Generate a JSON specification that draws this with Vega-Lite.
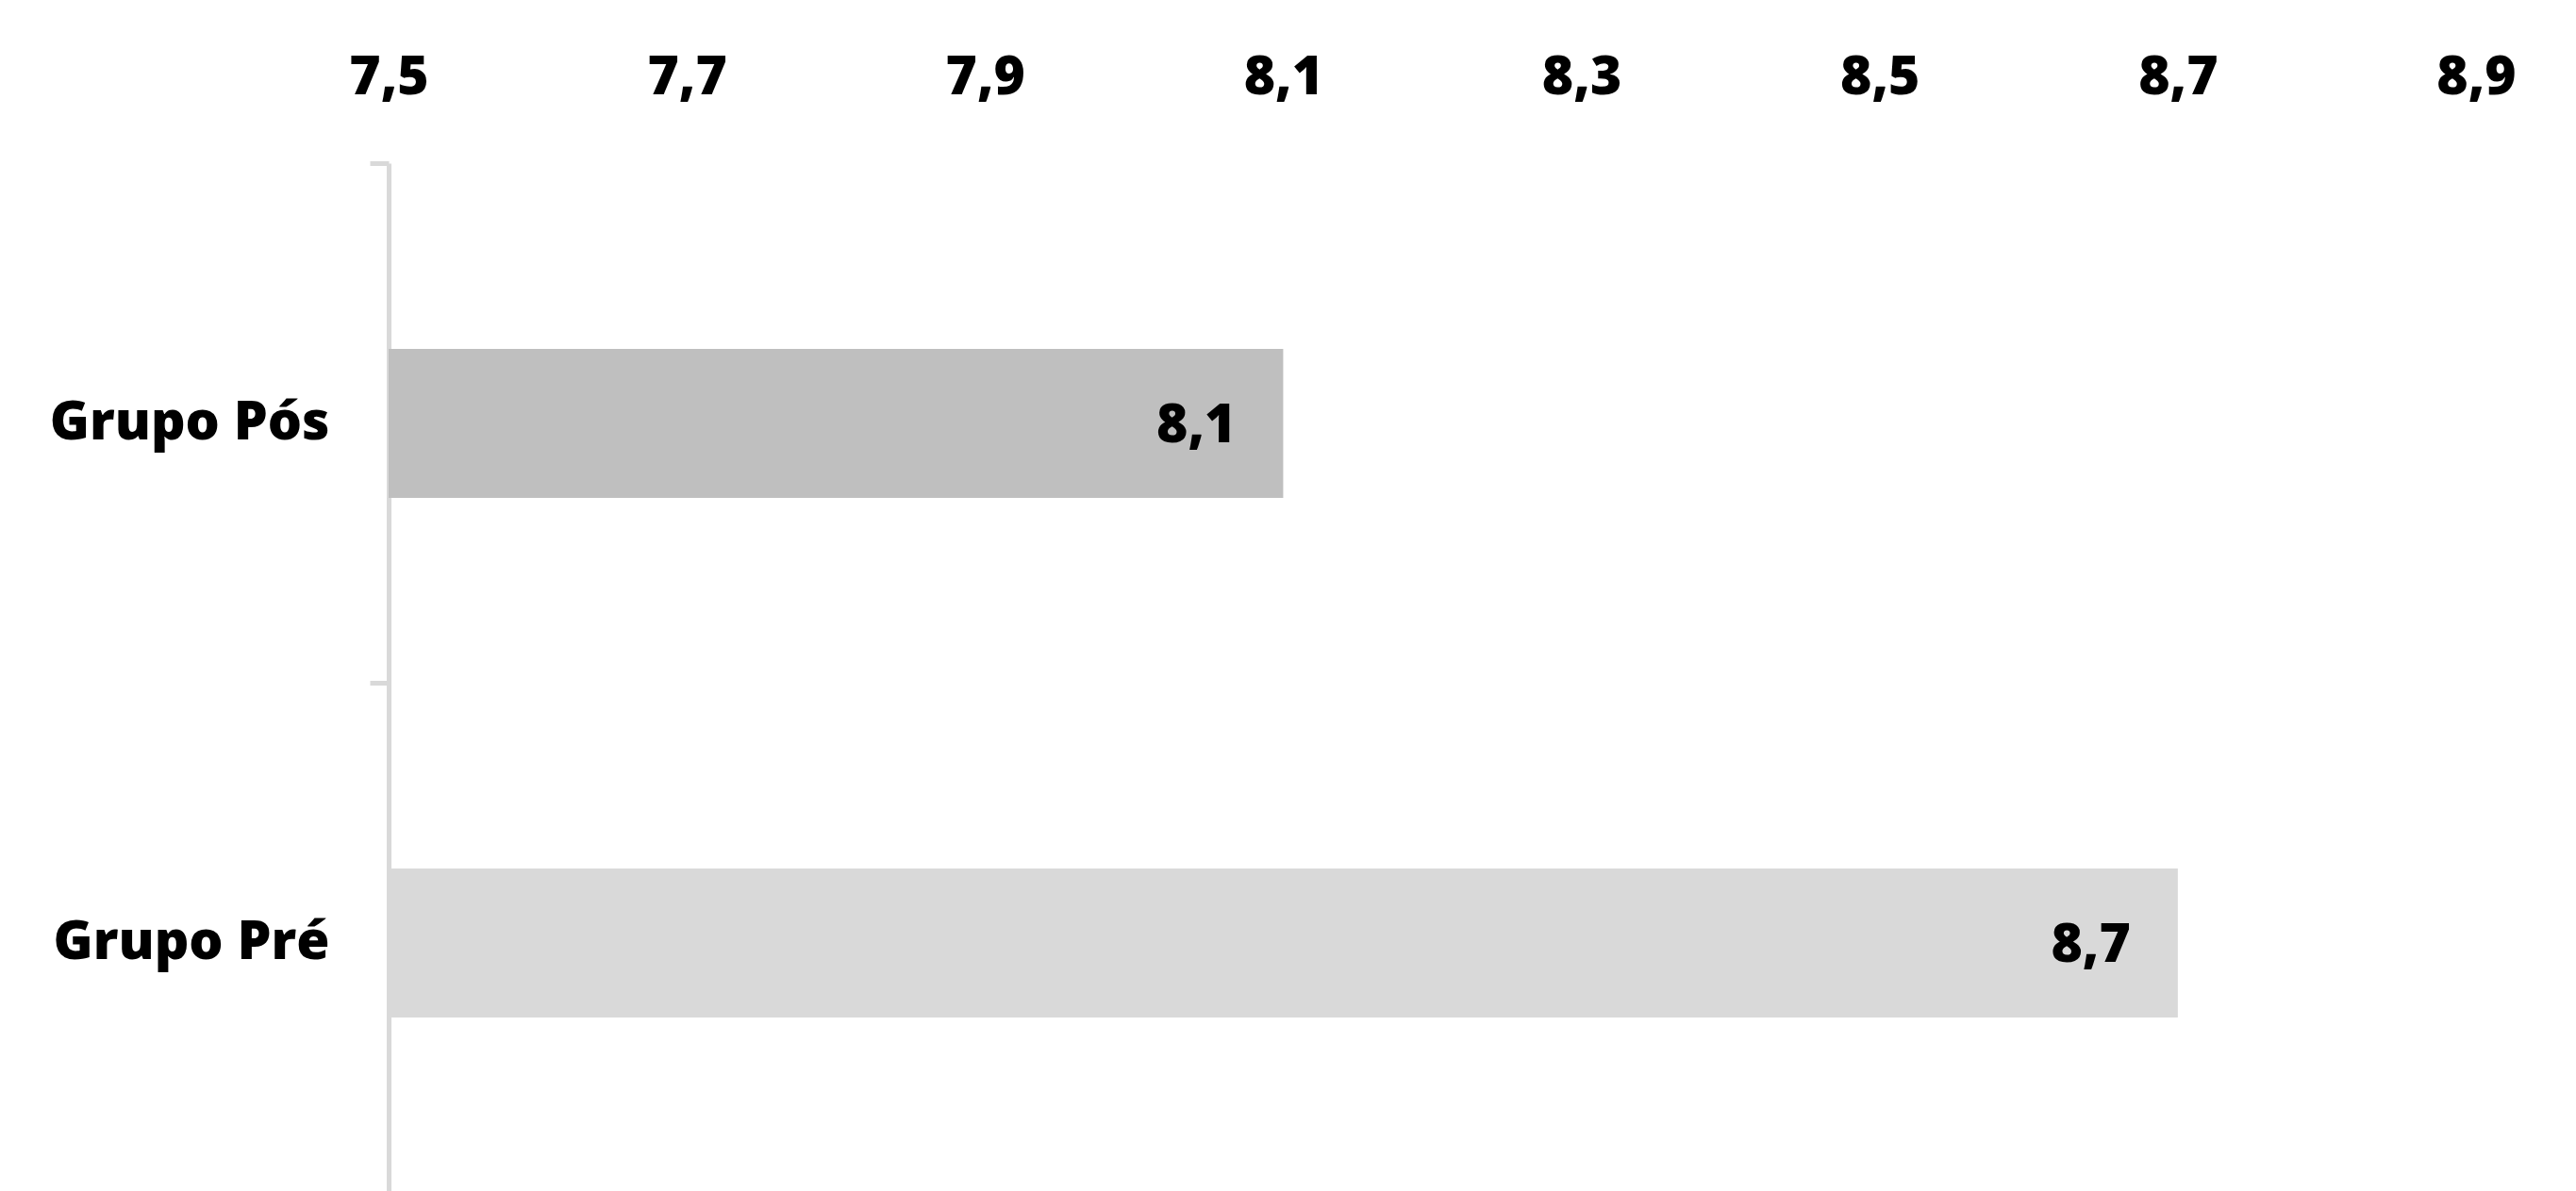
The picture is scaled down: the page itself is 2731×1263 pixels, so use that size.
{
  "$schema": "https://vega.github.io/schema/vega-lite/v6.json",
  "autosize": {"type": "none"},
  "padding": {"left": 412, "top": 173, "right": 106, "bottom": 0},
  "width": 2213,
  "height": 1090,
  "background": "white",
  "data": {"values": [
    {"grupo": "Grupo Pós", "valor": 8.1},
    {"grupo": "Grupo Pré", "valor": 8.7}
  ]},
  "encoding": {
    "y": {
      "field": "grupo", "type": "nominal",
      "sort": ["Grupo Pós", "Grupo Pré"],
      "scale": {"paddingInner": 0.713, "paddingOuter": 0.3456, "align": 0.517},
      "axis": {
        "title": null, "orient": "left",
        "domain": true, "domainColor": "#d9d9d9", "domainWidth": 5,
        "ticks": true, "tickColor": "#d9d9d9", "tickWidth": 5, "tickSize": 20,
        "tickOffset": -276, "labelOffset": 276,
        "labelPadding": 43, "labelLimit": 0, "labelFont": "Open Sans", "labelFontWeight": 800, "labelFontSize": 57, "labelColor": "#000000",
        "grid": false
      }
    },
    "x": {
      "field": "valor", "type": "quantitative",
      "scale": {"domain": [7.5, 8.9], "zero": false, "nice": false},
      "axis": {
        "title": null, "orient": "top",
        "values": [7.5, 7.7, 7.9, 8.1, 8.3, 8.5, 8.7, 8.9],
        "format": ".1f",
        "domain": false, "ticks": false, "grid": false,
        "labelPadding": 62, "labelFont": "Open Sans", "labelFontWeight": 800, "labelFontSize": 57, "labelColor": "#000000",
        "labelFlush": false, "labelOverlap": false
      }
    }
  },
  "layer": [
    {
      "mark": {"type": "bar"},
      "encoding": {
        "x2": {"datum": 7.5},
        "color": {
          "field": "grupo", "type": "nominal",
          "scale": {"domain": ["Grupo Pós", "Grupo Pré"], "range": ["#bfbfbf", "#d9d9d9"]},
          "legend": null
        }
      }
    },
    {
      "mark": {"type": "text", "align": "right", "baseline": "middle", "dx": -50, "dy": 3, "font": "Open Sans", "fontWeight": 800, "fontSize": 57, "color": "#000000"},
      "encoding": {
        "text": {"field": "valor", "type": "quantitative", "format": ".1f"}
      }
    }
  ],
  "config": {
    "view": {"stroke": null},
    "locale": {"number": {"decimal": ",", "thousands": ".", "grouping": [3], "currency": ["", ""]}}
  }
}
